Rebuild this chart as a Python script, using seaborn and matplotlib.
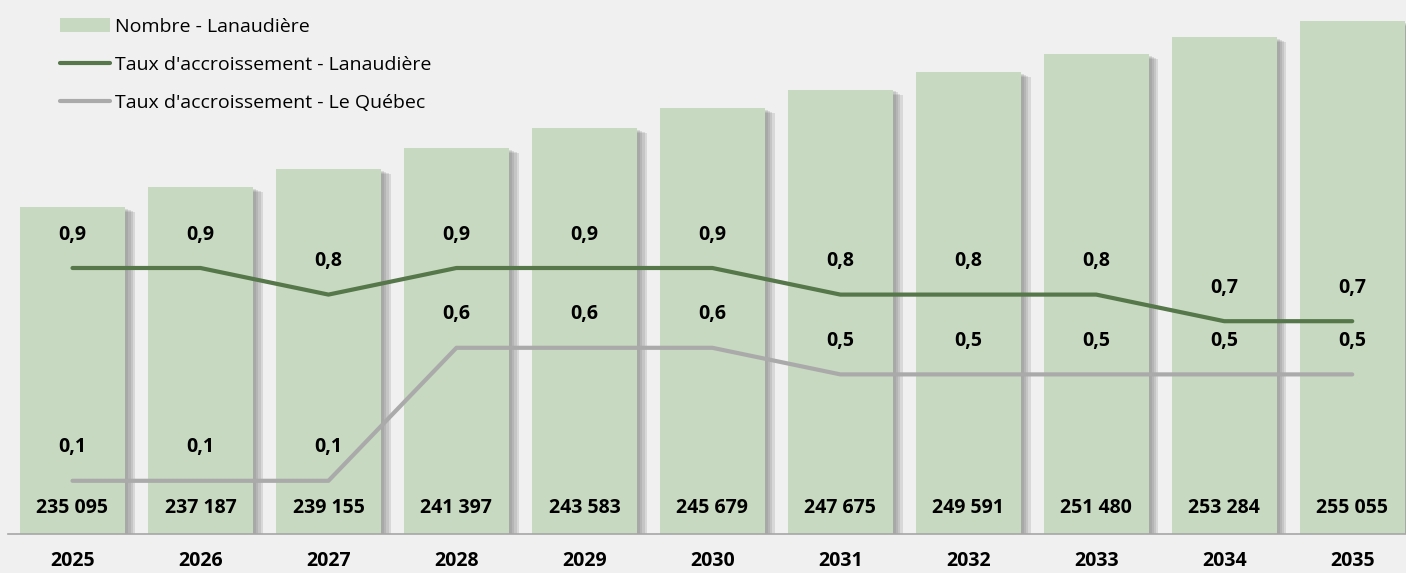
import numpy as np
import pandas as pd
import seaborn as sns
import matplotlib.pyplot as plt
import matplotlib.patheffects as pe
from matplotlib.patches import Patch
from matplotlib.lines import Line2D

years = [2025, 2026, 2027, 2028, 2029, 2030, 2031, 2032, 2033, 2034, 2035]
nombre = [235095, 237187, 239155, 241397, 243583, 245679, 247675, 249591, 251480, 253284, 255055]
taux_lanaudiere = [0.9, 0.9, 0.8, 0.9, 0.9, 0.9, 0.8, 0.8, 0.8, 0.7, 0.7]
taux_quebec = [0.1, 0.1, 0.1, 0.6, 0.6, 0.6, 0.5, 0.5, 0.5, 0.5, 0.5]

bar_color = '#c7d9c0'
green = '#55774a'
grey = '#aaaaaa'
bg = '#f0f0f0'

sns.set_style('white')
plt.rcParams['font.family'] = ['Open Sans', 'DejaVu Sans']
plt.rcParams['text.color'] = 'black'
plt.rcParams['xtick.color'] = 'black'

df = pd.DataFrame({'Année': years, 'Nombre': nombre,
                   'Lanaudière': taux_lanaudiere, 'Québec': taux_quebec})

fig = plt.figure(figsize=(14.06, 5.73), dpi=100, facecolor=bg)
ax = fig.add_axes([8 / 1406, 1 - 534 / 573, 1 - 8 / 1406, 534 / 573])
ax.set_facecolor(bg)

sns.barplot(data=df, x='Année', y='Nombre', native_scale=True, color=bar_color,
            width=0.82, saturation=1, ax=ax, zorder=2, edgecolor='none', linewidth=0)
# soft drop shadow: a few stacked offsets
shadow = [pe.SimplePatchShadow(offset=(o, -o / 2), shadow_rgbFace='#707070', alpha=0.18)
          for o in (7, 5.5, 4, 2.5)]
for p in ax.patches:
    p.set_path_effects(shadow + [pe.Normal()])
ax.set_ylim(200000, 257300)
ax.set_xlim(years[0] - 0.504, years[-1] + 0.42)

for x, v in zip(years, nombre):
    ax.annotate(f'{v:,}'.replace(',', ' '), (x, 200000), xytext=(0, 19), textcoords='offset points',
                ha='center', va='center', fontsize=14, fontweight='bold', zorder=5)

ax.set_xticks(years)
ax.set_xticklabels([str(y) for y in years], fontsize=14, fontweight='bold')
ax.tick_params(axis='x', length=0, pad=12, labelcolor='black')
ax.set_yticks([])
ax.set_xlabel('')
ax.set_ylabel('')
sns.despine(ax=ax, left=True, right=True, top=True)
ax.spines['bottom'].set_color('#a6a6a6')
ax.spines['bottom'].set_linewidth(1.2)

ax2 = ax.twinx()
sns.lineplot(data=df, x='Année', y='Lanaudière', color=green, linewidth=3, ax=ax2,
             solid_capstyle='round')
sns.lineplot(data=df, x='Année', y='Québec', color=grey, linewidth=3, ax=ax2,
             solid_capstyle='round')
ax2.set_ylim(-0.1, 1.9075)
ax2.set_yticks([])
ax2.set_ylabel('')
ax2.set_xlabel('')
for s in ax2.spines.values():
    s.set_visible(False)

for x, a, b in zip(years, taux_lanaudiere, taux_quebec):
    ax2.annotate(f'{a:.1f}'.replace('.', ','), (x, a), xytext=(0, 24), textcoords='offset points',
                 ha='center', va='center', fontsize=14, fontweight='bold')
    ax2.annotate(f'{b:.1f}'.replace('.', ','), (x, b), xytext=(0, 24), textcoords='offset points',
                 ha='center', va='center', fontsize=14, fontweight='bold')

handles = [Patch(facecolor=bar_color, edgecolor='none'),
           Line2D([], [], color=green, linewidth=3),
           Line2D([], [], color=grey, linewidth=3)]
labels = ['Nombre - Lanaudière', "Taux d'accroissement - Lanaudière", "Taux d'accroissement - Le Québec"]
leg = fig.legend(handles, labels, loc='upper left', bbox_to_anchor=(52 / 1406, 1 - 10 / 573),
                 frameon=False, fontsize=14, handlelength=2.6, handletextpad=0.25,
                 labelspacing=1.03, borderaxespad=0)
for t in leg.get_texts():
    t.set_color('black')

fig.savefig('out.png', dpi=100, facecolor=bg)
